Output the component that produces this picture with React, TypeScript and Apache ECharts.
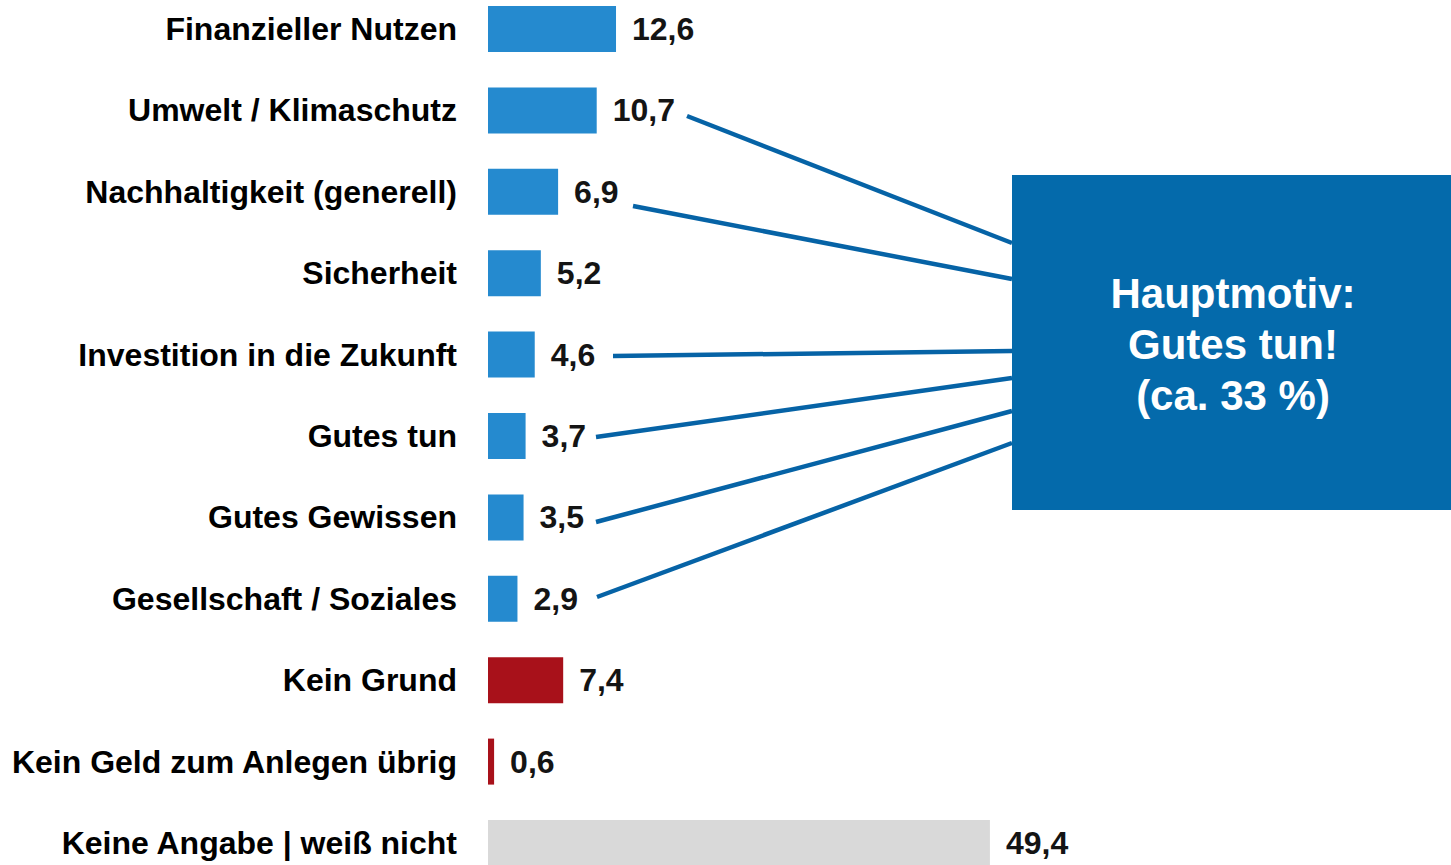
import React, { useEffect, useRef } from "react";
import * as echarts from "echarts";

const categories = [
  "Finanzieller Nutzen",
  "Umwelt / Klimaschutz",
  "Nachhaltigkeit (generell)",
  "Sicherheit",
  "Investition in die Zukunft",
  "Gutes tun",
  "Gutes Gewissen",
  "Gesellschaft / Soziales",
  "Kein Grund",
  "Kein Geld zum Anlegen übrig",
  "Keine Angabe | weiß nicht",
];
const values = [12.6, 10.7, 6.9, 5.2, 4.6, 3.7, 3.5, 2.9, 7.4, 0.6, 49.4];
const groups = ["motiv", "motiv", "motiv", "motiv", "motiv", "motiv", "motiv", "motiv", "nein", "nein", "na"];
const boxLines = ["Hauptmotiv:", "Gutes tun!", "(ca. 33 %)"];

const FONT = '"Liberation Sans", Arial, Helvetica, sans-serif';
const groupColor: Record<string, string> = { motiv: "#258ACF", nein: "#A8111A", na: "#D9D9D9" };

const SHIFT = 12;

export default function App() {
  const ref = useRef<HTMLDivElement>(null);
  useEffect(() => {
    if (!ref.current) return;
    const chart = echarts.init(ref.current, undefined, { renderer: "svg" });
    const band = 81.4;
    const top = 29 - band / 2 + SHIFT;
    const lineColor = "#0663A6";
    const connectors = [
      [687, 116, 1012, 243],
      [633, 206, 1012, 279],
      [613, 356, 1012, 351],
      [596, 437, 1012, 378],
      [596, 522, 1012, 411],
      [597, 597, 1012, 443],
    ];
    chart.setOption({
      animation: false,
      grid: { left: 488, top: top, width: 508, height: band * categories.length },
      xAxis: {
        type: "value",
        min: 0,
        max: 50,
        show: false,
      },
      yAxis: {
        type: "category",
        inverse: true,
        data: categories,
        axisLine: { show: false },
        axisTick: { show: false },
        splitLine: { show: false },
        axisLabel: {
          margin: 31,
          fontFamily: FONT,
          fontWeight: "bold",
          fontSize: 32,
          color: "#000",
        },
      },
      series: [
        {
          type: "bar",
          barWidth: 46,
          data: values.map((v, i) => ({ value: v, itemStyle: { color: groupColor[groups[i]] } })),
          label: {
            show: true,
            position: "right",
            distance: 16,
            fontFamily: FONT,
            fontWeight: "bold",
            fontSize: 32,
            color: "#141414",
            formatter: (p: any) => String(p.value).replace(".", ","),
          },
        },
      ],
      graphic: [
        ...connectors.map((c) => ({
          type: "line",
          shape: { x1: c[0], y1: c[1] + SHIFT, x2: c[2], y2: c[3] + SHIFT },
          style: { stroke: lineColor, lineWidth: 4.5 },
          z: 10,
        })),
        {
          type: "rect",
          shape: { x: 1012, y: 175 + SHIFT, width: 439, height: 335 },
          style: { fill: "#046AAB" },
          z: 11,
        },
        {
          type: "text",
          x: 1233,
          y: 344 + SHIFT,
          z: 12,
          style: {
            text: boxLines.join("\n"),
            fill: "#fff",
            font: `bold 42px ${FONT}`,
            lineHeight: 51,
            align: "center",
            verticalAlign: "middle",
          },
        },
      ],
    });
    return () => chart.dispose();
  }, []);
  return (
    <div
      style={{
        position: "absolute",
        left: 0,
        top: 0,
        width: 1451,
        height: 865,
        overflow: "hidden",
        background: "#fff",
      }}
    >
      <div
        ref={ref}
        style={{ position: "absolute", left: 0, top: -SHIFT, width: 1451, height: 910 }}
      />
    </div>
  );
}
